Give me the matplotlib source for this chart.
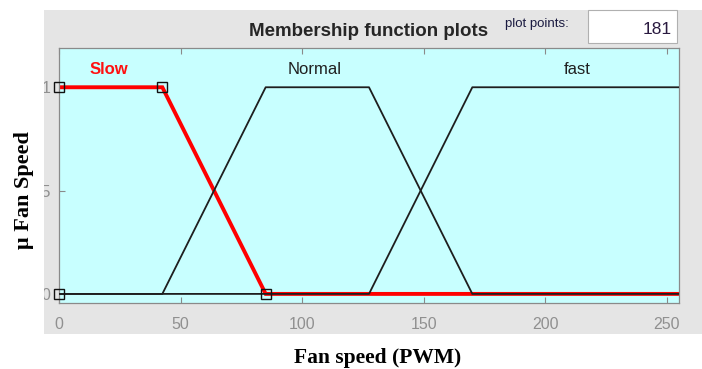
import matplotlib
matplotlib.use("Agg")
import matplotlib.pyplot as plt
from matplotlib.patches import Rectangle
from matplotlib.transforms import Bbox, TransformedBbox

# Data: membership functions (trapezoid parameters) over fan speed (PWM)
x_slow = [0, 42.5, 85, 255]
y_slow = [1, 1, 0, 0]
x_normal = [0, 42.5, 85, 127.5, 170, 255]
y_normal = [0, 0, 1, 1, 0, 0]
x_fast = [0, 127.5, 170, 255]
y_fast = [0, 0, 1, 1]
slow_marker_x = [0, 0, 42.5, 85]
slow_marker_y = [0, 1, 1, 0]
mf_labels = ["Slow", "Normal", "fast"]
mf_label_x = [20.5, 105, 213]
xticks = [0, 50, 100, 150, 200, 250]
yticks = [0, 0.5, 1]
ytick_labels = ["0", ".5", "1"]
plot_points = "181"

W, H = 702, 369
fig = plt.figure(figsize=(W / 100, H / 100), dpi=100)

def fx(px):
    return px / W

def fy(py):
    return 1 - py / H

# gray panel
fig.patches.append(Rectangle((fx(44), fy(334)), fx(702) - fx(44), fy(10) - fy(334),
                             transform=fig.transFigure, facecolor="#e5e5e5",
                             edgecolor="none", zorder=-10))
# plot points box
fig.patches.append(Rectangle((fx(588), fy(43)), fx(677) - fx(588), fy(10) - fy(43),
                             transform=fig.transFigure, facecolor="white",
                             edgecolor="#b0b0b0", lw=0.8, zorder=-5))

ax = fig.add_axes([fx(59), fy(303), fx(679) - fx(59), fy(48) - fy(303)])
ax.set_facecolor("#c8ffff")
ax.set_xlim(0, 255)
ax.set_ylim(-0.044, 1.19)

ax.plot(x_slow, y_slow, color="#ff0000", lw=2.8, zorder=2, solid_joinstyle="miter")
ax.plot(x_normal, y_normal, color="#1e1e1e", lw=1.3, zorder=3)
ax.plot(x_fast, y_fast, color="#1e1e1e", lw=1.3, zorder=3)
ax.plot(slow_marker_x, slow_marker_y, ls="none", marker="s", ms=6.5,
        mfc="none", mec="#111111", mew=1.0, zorder=4, clip_on=False)

label_colors = ["#ff1010", "#202020", "#202020"]
label_weights = ["bold", "normal", "normal"]
for lab, lx, c, w in zip(mf_labels, mf_label_x, label_colors, label_weights):
    ax.text(lx, 1.087, lab, color=c, fontweight=w, fontsize=12, ha="center",
            va="center", family="Liberation Sans")

for s in ax.spines.values():
    s.set_color("#8a8a8a")
    s.set_linewidth(0.9)

ax.set_xticks(xticks)
ax.set_xticklabels([str(t) for t in xticks])
ax.set_yticks(yticks)
ax.set_yticklabels(ytick_labels)
ax.tick_params(axis="both", direction="in", colors="#8a8a8a", labelcolor="#909090",
               labelsize=11.5, length=4, width=0.8)
ax.tick_params(axis="x", top=True, pad=10)
ax.tick_params(axis="y", right=False, pad=6)
for t in ax.get_xticklabels() + ax.get_yticklabels():
    t.set_family("Liberation Sans")

# clip y tick labels at the panel's left edge
clipbox = TransformedBbox(Bbox([[fx(44), 0], [1, 1]]), fig.transFigure)
for t in ax.get_yticklabels():
    t.set_clip_box(clipbox)
    t.set_clip_on(True)

fig.text(fx(369), fy(32), "Membership function plots", ha="center", va="center",
         fontsize=13.5, fontweight="bold", family="Liberation Sans", color="#262626")
fig.text(fx(537), fy(24), "plot points:", ha="center", va="center",
         fontsize=9.5, family="Liberation Sans", color="#1a1a40")
fig.text(fx(672), fy(30), plot_points, ha="right", va="center",
         fontsize=12.5, family="Liberation Sans", color="#2a1a40")

fig.text(fx(378), fy(363), "Fan speed (PWM)", ha="center", va="baseline",
         fontsize=15.5, fontweight="bold", family="Liberation Serif")
fig.text(fx(24), fy(190), "μ Fan Speed", ha="center", va="center", rotation=90,
         fontsize=16, fontweight="bold", family="Liberation Serif")

fig.savefig("out.png", dpi=100)
